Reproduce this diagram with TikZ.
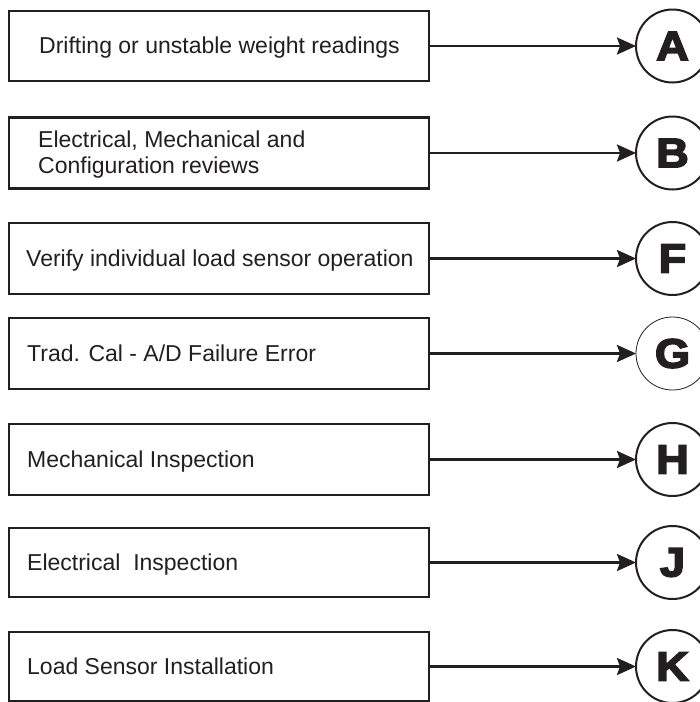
\documentclass[tikz,border=0pt]{standalone}
\usepackage{fontspec}
\setmainfont{Liberation Sans}
\newfontfamily\heavyfont[FakeBold=4,FakeStretch=1.1]{Liberation Sans Bold}
\usetikzlibrary{arrows.meta}
\definecolor{ink}{HTML}{231F20}
\begin{document}
\begin{tikzpicture}[x=1pt,y=-1pt,
  boxnode/.style={draw=ink,line width=2.4pt,minimum width=420pt,inner sep=0pt,outer sep=0pt},
  txt/.style={inner sep=0pt,text=ink,font=\fontsize{23}{26}\selectfont},
  letter/.style={circle,draw=ink,line width=2pt,minimum size=73pt,inner sep=0pt,outer sep=0pt,
                 text=ink,font=\heavyfont\fontsize{41}{41}\selectfont},
  arr/.style={draw=ink,line width=2.6pt,-{Stealth[length=19pt,width=17pt,inset=3pt]}}]
\useasboundingbox (0,0) rectangle (700,702);
\clip (0,0) rectangle (700,702);
\fill[white] (0,0) rectangle (700,702);

% boxes
\node[boxnode,minimum height=70pt] (b1) at (219,46) {};
\node[boxnode,minimum height=71pt] (b2) at (219,153) {};
\node[boxnode,minimum height=71pt] (b3) at (219,258.5) {};
\node[boxnode,minimum height=71pt] (b4) at (219,353.5) {};
\node[boxnode,minimum height=71pt] (b5) at (219,459.5) {};
\node[boxnode,minimum height=69pt] (b6) at (219,562.5) {};
\node[boxnode,minimum height=69pt] (b7) at (219,666.5) {};

% texts
\node[txt,anchor=base] (t1) at (219.5,53.5) {Drifting or unstable weight readings};
\node[txt,anchor=north west,align=left] (t2) at (38,130.5) {Electrical, Mechanical and\\Configuration reviews};
\node[txt,anchor=base west] (t3) at (26,266.5) {Verify individual load sensor operation};
\node[txt,anchor=base west] (t4) at (27,361.5) {Trad. Cal - A/D Failure Error};
\node[txt,anchor=base west] (t5) at (27,467.5) {Mechanical Inspection};
\node[txt,anchor=base west] (t6) at (27,570.5) {Electrical\ \ Inspection};
\node[txt,anchor=base west] (t7) at (27,674.5) {Load Sensor Installation};

% circles
\node[letter] (cA) at (672.5,46) {A};
\node[letter] (cB) at (672.5,153) {B};
\node[letter] (cF) at (672.5,258.5) {F};
\node[letter,line width=0.8pt] (cG) at (672.5,353.5) {G};
\node[letter] (cH) at (672.5,459.5) {H};
\node[letter] (cJ) at (672.5,562.5) {J};
\node[letter] (cK) at (672.5,666.5) {K};

% connectors
\draw[arr] (b1.east) -- (cA.west);
\draw[arr] (b2.east) -- (cB.west);
\draw[arr] (b3.east) -- (cF.west);
\draw[arr] (b4.east) -- (cG.west);
\draw[arr] (b5.east) -- (cH.west);
\draw[arr] (b6.east) -- (cJ.west);
\draw[arr] (b7.east) -- (cK.west);
\end{tikzpicture}
\end{document}
